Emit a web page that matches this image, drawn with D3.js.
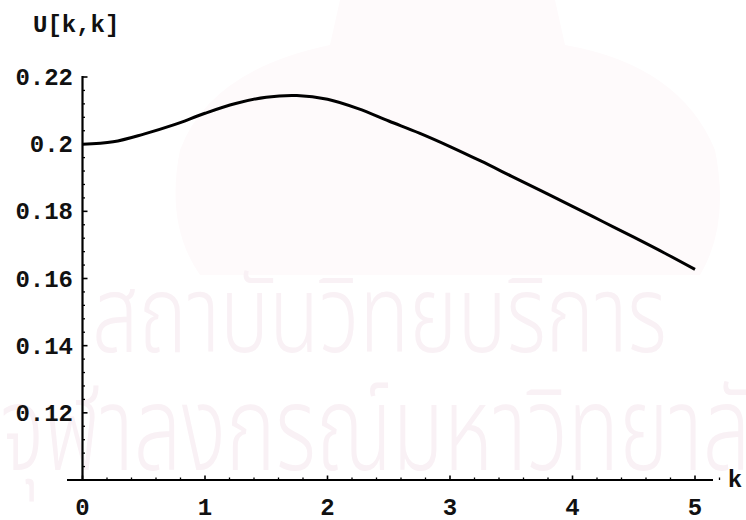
<!DOCTYPE html>
<html>
<head>
<meta charset="utf-8">
<script src="https://cdn.jsdelivr.net/npm/d3@7"></script>
<style>
  html, body { margin: 0; padding: 0; background: #fff; }
  svg { display: block; }
  .lbl { font-family: "Liberation Mono", "Courier New", monospace; font-weight: bold; font-size: 24px; fill: #111; }
  .wm { font-family: "Noto Sans Thai", "Noto Sans", "DejaVu Sans", sans-serif; font-weight: 300; fill: #f9f1f5; }
</style>
</head>
<body>
<svg id="chart" width="746" height="520"></svg>
<script>
// U[k,k] sampled along k
const kValues = [0, 0.25, 0.5, 0.75, 1.0, 1.25, 1.5, 1.75, 2.0, 2.25, 2.5, 2.75,
                 3.0, 3.25, 3.5, 3.75, 4.0, 4.25, 4.5, 4.75, 5.0];
const uValues = [0.2000, 0.2007, 0.2030, 0.2058, 0.2092, 0.2121, 0.2140, 0.2145, 0.2134, 0.2106,
                 0.2069, 0.2033, 0.1993, 0.1950, 0.1905, 0.1860, 0.1815, 0.1769, 0.1723, 0.1676, 0.1627];
const xTicks = [0, 1, 2, 3, 4, 5];
const yTicks = [0.12, 0.14, 0.16, 0.18, 0.2, 0.22];
const yTickLabels = ["0.12", "0.14", "0.16", "0.18", "0.2", "0.22"];
const yAxisTitle = "U[k,k]";
const xAxisTitle = "k";
const watermarkLines = ["สถาบันวิทยบริการ", "จุฬาลงกรณ์มหาวิทยาลัย"];

const svg = d3.select("#chart");

const x = d3.scaleLinear().domain([0, 5]).range([82.5, 695]);
const y = d3.scaleLinear().domain([0.1, 0.22]).range([480, 77]);

// faint background stamp: emblem silhouette and two lines of text
const wm = svg.append("g");
wm.append("path")
  .attr("d", "M340,0 L555,0 L565,45 Q680,65 715,150 Q730,225 700,275 L200,275 Q165,225 180,150 Q210,70 330,45 Z")
  .attr("fill", "#fefafb");
wm.append("text").attr("class", "wm")
  .attr("x", 92).attr("y", 352)
  .attr("font-size", 108)
  .attr("textLength", 575).attr("lengthAdjust", "spacingAndGlyphs")
  .text(watermarkLines[0]);
wm.append("text").attr("class", "wm")
  .attr("x", 0).attr("y", 470)
  .attr("font-size", 118)
  .attr("textLength", 800).attr("lengthAdjust", "spacingAndGlyphs")
  .text(watermarkLines[1]);

// x axis: line, minor and major ticks pointing up
const xMinor = d3.range(0, 5.21, 0.2).filter(v => Math.abs(v - Math.round(v)) > 1e-6);
const gx = svg.append("g");
gx.append("line")
  .attr("x1", 67).attr("x2", 713)
  .attr("y1", y(0.1)).attr("y2", y(0.1))
  .attr("stroke", "#000").attr("stroke-width", 2.2);
gx.selectAll("line.minor").data(xMinor).join("line")
  .attr("class", "minor")
  .attr("x1", d => x(d)).attr("x2", d => x(d))
  .attr("y1", y(0.1)).attr("y2", y(0.1) - 2.5)
  .attr("stroke", "#000").attr("stroke-width", 1.3);
gx.selectAll("line.major").data(xTicks).join("line")
  .attr("class", "major")
  .attr("x1", d => x(d)).attr("x2", d => x(d))
  .attr("y1", y(0.1)).attr("y2", y(0.1) - 4.5)
  .attr("stroke", "#000").attr("stroke-width", 1.6);
gx.selectAll("text").data(xTicks).join("text")
  .attr("class", "lbl")
  .attr("x", d => x(d)).attr("y", 515)
  .attr("text-anchor", "middle")
  .text(d => String(d));
svg.append("text").attr("class", "lbl")
  .attr("x", 735).attr("y", 487).attr("text-anchor", "middle")
  .text(xAxisTitle);

// y axis: line, minor and major ticks pointing right
const yMinor = d3.range(0.104, 0.2201, 0.004).filter(v => Math.abs(v * 50 - Math.round(v * 50)) > 1e-6);
const gy = svg.append("g");
gy.append("line")
  .attr("x1", x(0)).attr("x2", x(0))
  .attr("y1", y(0.22) - 1).attr("y2", y(0.1))
  .attr("stroke", "#000").attr("stroke-width", 2.2);
gy.selectAll("line.minor").data(yMinor).join("line")
  .attr("class", "minor")
  .attr("x1", x(0)).attr("x2", x(0) + 2.5)
  .attr("y1", d => y(d)).attr("y2", d => y(d))
  .attr("stroke", "#000").attr("stroke-width", 1.3);
gy.selectAll("line.major").data(yTicks).join("line")
  .attr("class", "major")
  .attr("x1", x(0)).attr("x2", x(0) + 5)
  .attr("y1", d => y(d)).attr("y2", d => y(d))
  .attr("stroke", "#000").attr("stroke-width", 1.6);
gy.selectAll("text").data(yTicks).join("text")
  .attr("class", "lbl")
  .attr("x", 73).attr("y", d => y(d) + 8)
  .attr("text-anchor", "end")
  .text((d, i) => yTickLabels[i]);
svg.append("text").attr("class", "lbl")
  .attr("x", 33).attr("y", 32)
  .text(yAxisTitle);

// the curve
const line = d3.line()
  .x((d, i) => x(kValues[i]))
  .y(d => y(d))
  .curve(d3.curveCatmullRom.alpha(0.5));
svg.append("path")
  .datum(uValues)
  .attr("d", line)
  .attr("fill", "none")
  .attr("stroke", "#000")
  .attr("stroke-width", 3)
  .attr("stroke-linejoin", "round");
</script>
</body>
</html>
